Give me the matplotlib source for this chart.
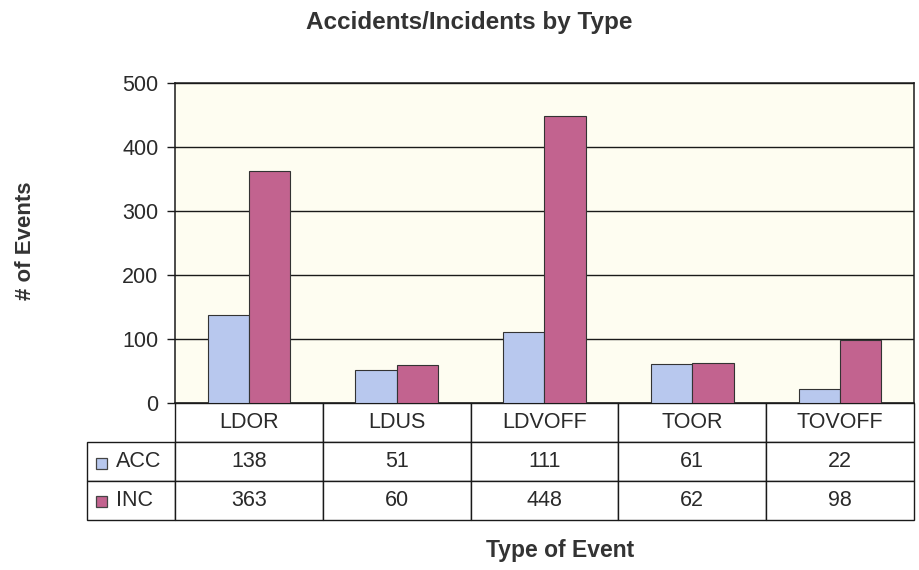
import numpy as np
import matplotlib
matplotlib.use("Agg")
import matplotlib.pyplot as plt
from matplotlib.patches import Rectangle

plt.rcParams['font.family'] = ['Liberation Sans', 'DejaVu Sans']

# Data
event_types = ["LDOR", "LDUS", "LDVOFF", "TOOR", "TOVOFF"]
series_names = ["ACC", "INC"]
acc_counts = [138, 51, 111, 61, 22]
inc_counts = [363, 60, 448, 62, 98]
y_ticks = [0, 100, 200, 300, 400, 500]

blue = "#b8c8ee"
pink = "#c2638f"
text_col = "#2a2a2a"

fig = plt.figure(figsize=(9.2, 5.7), dpi=100)
ax_w, ax_h = 739, 320
ax = fig.add_axes([175 / 920, 1 - 403 / 570, ax_w / 920, ax_h / 570])
ax.set_facecolor("#fefdf1")

x = np.arange(len(event_types))
w = 0.28
ax.bar(x - w / 2, acc_counts, w, color=blue, edgecolor="#333333", linewidth=0.8, zorder=3)
ax.bar(x + w / 2, inc_counts, w, color=pink, edgecolor="#333333", linewidth=0.8, zorder=3)

ax.set_xlim(-0.5, len(event_types) - 0.5)
ax.set_ylim(0, 500)
ax.set_yticks(y_ticks)
ax.yaxis.grid(True, color="#1a1a1a", linewidth=1.0, zorder=1)
ax.set_xticks([])
ax.tick_params(axis="y", length=6, width=1, colors="#1a1a1a", labelsize=15.5,
               labelcolor=text_col, pad=6)
for s in ax.spines.values():
    s.set_color("#1a1a1a")
    s.set_linewidth(1.1)

# data table under the axes (first column holds the series names)
label_w = 88 / ax_w
tbl_h = 117 / ax_h
cell_text = [[name] + [str(v) for v in vals]
             for name, vals in zip(series_names, [acc_counts, inc_counts])]
tbl = ax.table(cellText=cell_text, colLabels=[""] + event_types, cellLoc="center",
               colWidths=[label_w] + [0.2] * 5,
               bbox=[-label_w, -tbl_h, 1 + label_w, tbl_h])
tbl.auto_set_font_size(False)
tbl.set_fontsize(15.5)
for (r, c), cell in tbl.get_celld().items():
    cell.set_edgecolor("#1a1a1a")
    cell.set_linewidth(1.0)
    cell.get_text().set_color(text_col)
    if r == 0 and c == 0:
        cell.set_visible(False)
    elif c == 0:
        cell.get_text().set_ha("left")
        cell.PAD = 0.33

# legend swatches in the row labels
sw = 11
for i, col in enumerate([blue, pink]):
    yc = 463 + i * 38
    ax.add_patch(Rectangle(((96 - 175) / ax_w, (403 - yc - sw / 2) / ax_h), sw / ax_w, sw / ax_h,
                           transform=ax.transAxes, facecolor=col, edgecolor="#444444",
                           linewidth=0.9, clip_on=False, zorder=10))

fig.text(469 / 920, 1 - 22 / 570, "Accidents/Incidents by Type", ha="center", va="center",
         fontsize=17.5, fontweight="bold", color="#333333")
fig.text(560 / 920, 1 - 550 / 570, "Type of Event", ha="center", va="center",
         fontsize=16.5, fontweight="bold", color="#333333")
fig.text(26 / 920, 1 - 241 / 570, "# of Events", ha="center", va="center", rotation=90,
         fontsize=16, fontweight="bold", color="#333333")

fig.savefig("out.png", dpi=100, facecolor="white")
